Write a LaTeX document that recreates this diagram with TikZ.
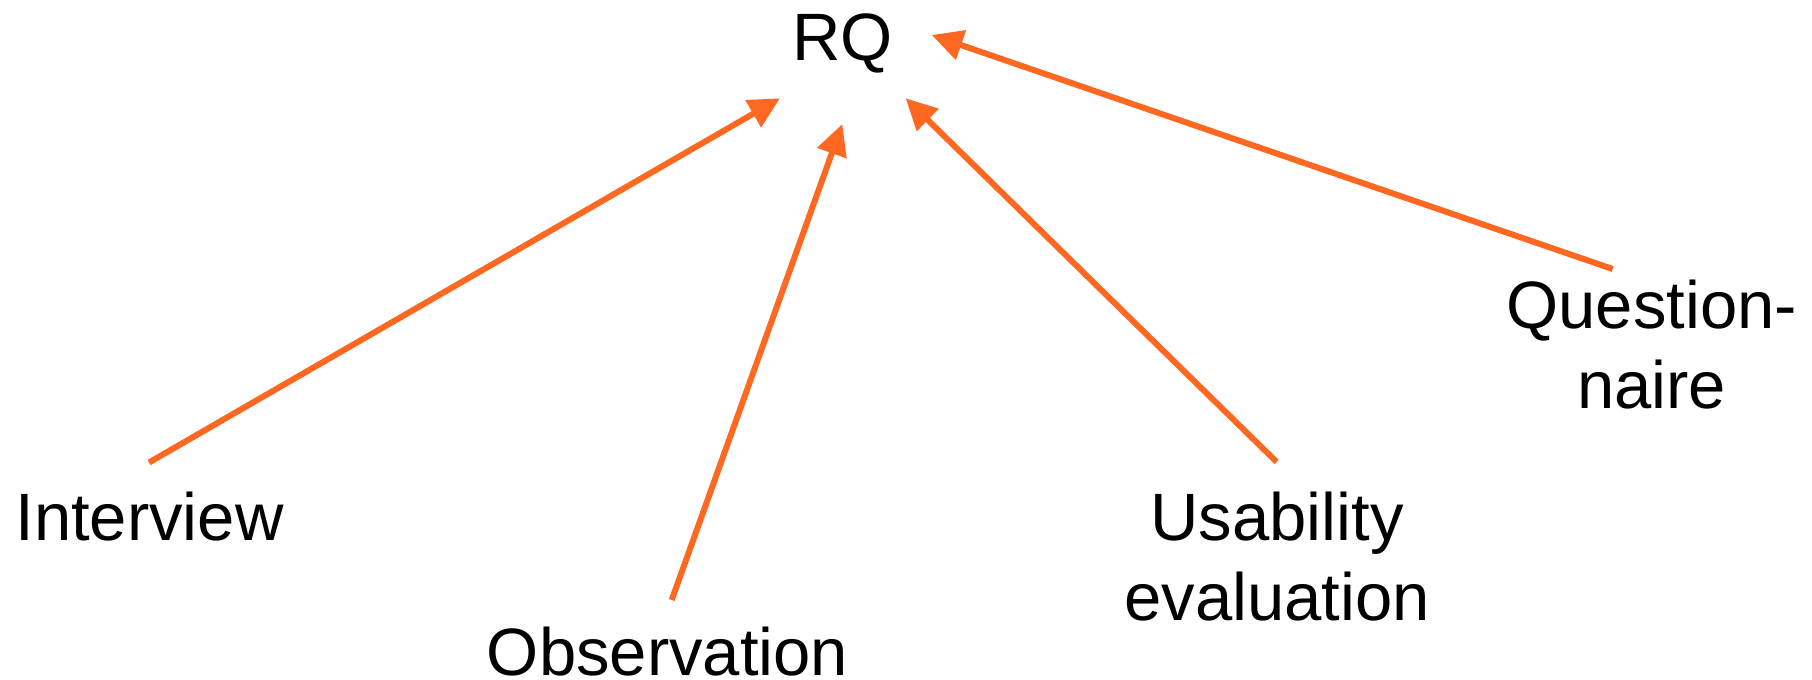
\documentclass[tikz,border=0pt]{standalone}
\usepackage{fontspec}
\setmainfont{Liberation Sans}
\usetikzlibrary{arrows.meta}
\definecolor{linkorange}{RGB}{255,104,32}
\begin{document}
\begin{tikzpicture}[x=0.5pt,y=-0.5pt,
  label/.style={inner sep=0pt, anchor=base, align=center,
    font=\fontsize{33.5pt}{40pt}\selectfont},
  link/.style={draw=linkorange, line width=3pt,
    -{Triangle[length=15.5pt,width=15pt]}, fill=linkorange}]
\useasboundingbox (0,0) rectangle (1812,680);

% labels (the base anchor of a two-line label sits on its last line)
\node[label] (rq)    at (842.5,61)  {RQ};
\node[label, anchor=base west] (iv) at (15,540) {Interview};
\node[label] (obs)   at (667.5,675) {Observation};
\node[label] (usab)  at (1277,620)  {Usability\\evaluation};
\node[label] (quest) at (1651.7,408) {Question-\\naire};

% arrow ends
\coordinate (ivT)  at (149,462.5);
\coordinate (ivH)  at (780,98.3);
\coordinate (obsT) at (671.7,600);
\coordinate (obsH) at (842.3,124);
\coordinate (usT)  at (1276.7,462);
\coordinate (usH)  at (905.7,98.3);
\coordinate (qT)   at (1612.7,269);
\coordinate (qH)   at (931.7,35);

% connectors towards RQ
\draw[link] (ivT)  -- (ivH);
\draw[link] (obsT) -- (obsH);
\draw[link] (usT)  -- (usH);
\draw[link] (qT)   -- (qH);
\end{tikzpicture}
\end{document}
